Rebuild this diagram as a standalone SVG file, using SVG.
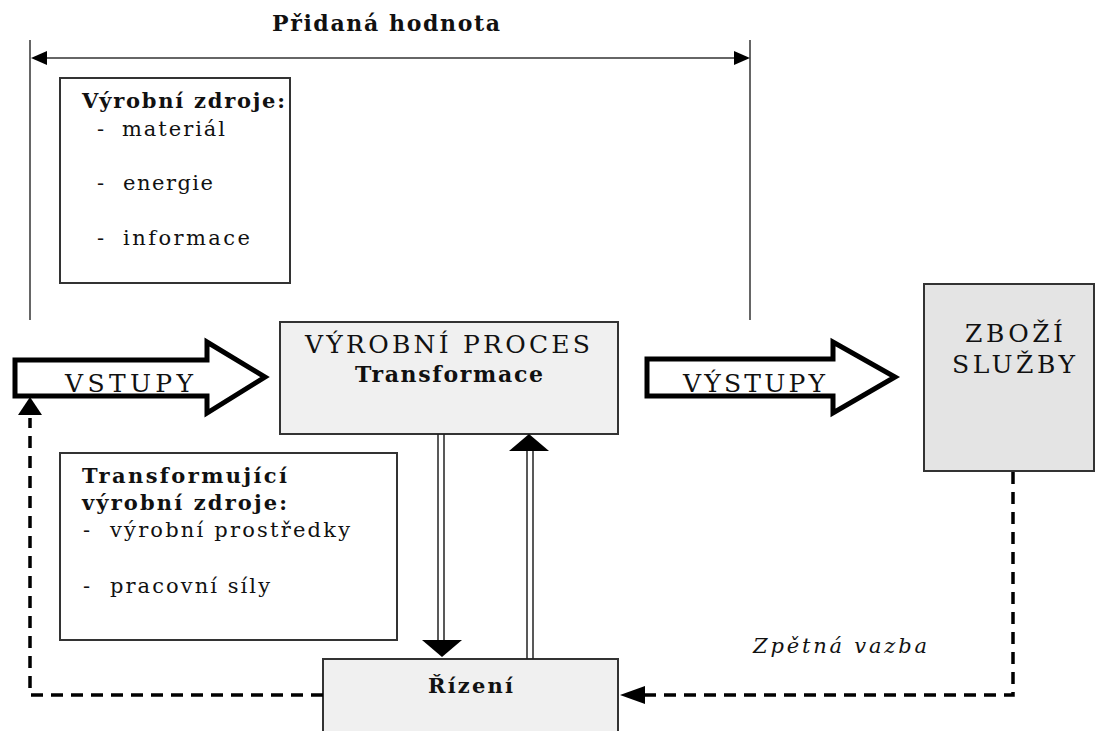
<svg xmlns="http://www.w3.org/2000/svg" width="1096" height="731" viewBox="0 0 1096 731" font-family="DejaVu Serif, Liberation Serif, serif">
  <style>
    .b { font-weight: bold; }
    .box { stroke: #333; stroke-width: 2; }
    .white { fill: #fff; }
    .light { fill: #f0f0f0; }
    .grey { fill: #e4e4e4; }
    .measure { stroke: #666; stroke-width: 2; fill: none; }
    .block { fill: #fff; stroke: #000; stroke-width: 5; stroke-linejoin: miter; }
    .dash { stroke: #000; stroke-width: 3.5; fill: none; stroke-dasharray: 12 8; }
    .thin { stroke: #222; stroke-width: 1.5; }
    .head { fill: #000; }
  </style>
  <rect width="1096" height="731" fill="#fff"/>

  <!-- value-added span across the top -->
  <g id="value-added" fill="#111">
    <line class="measure" x1="30" y1="40" x2="30" y2="320"/>
    <line class="measure" x1="750" y1="40" x2="750" y2="320"/>
    <line class="measure" x1="40" y1="58" x2="740" y2="58"/>
    <polygon class="head" points="31,58 47,51 47,65"/>
    <polygon class="head" points="750,58 734,51 734,65"/>
    <text class="b" x="272" y="31" font-size="22" textLength="228" lengthAdjust="spacing">Přidaná hodnota</text>
  </g>

  <!-- production resources -->
  <g id="resources" fill="#111">
    <rect class="box white" x="60" y="78" width="230" height="205"/>
    <text class="b" x="82" y="108" font-size="21" textLength="203" lengthAdjust="spacing">Výrobní zdroje:</text>
    <text x="97" y="136" font-size="21">-</text>
    <text x="122" y="136" font-size="21" textLength="103" lengthAdjust="spacing">materiál</text>
    <text x="97" y="190" font-size="21">-</text>
    <text x="123" y="190" font-size="21" textLength="90" lengthAdjust="spacing">energie</text>
    <text x="97" y="245" font-size="21">-</text>
    <text x="123" y="245" font-size="21" textLength="127" lengthAdjust="spacing">informace</text>
  </g>

  <!-- transforming resources -->
  <g id="transforming" fill="#111">
    <rect class="box white" x="60" y="453" width="337" height="187"/>
    <text class="b" x="82" y="483" font-size="21" textLength="205" lengthAdjust="spacing">Transformující</text>
    <text class="b" x="82" y="510" font-size="21" textLength="205" lengthAdjust="spacing">výrobní zdroje:</text>
    <text x="83" y="537" font-size="21">-</text>
    <text x="110" y="537" font-size="21" textLength="240" lengthAdjust="spacing">výrobní prostředky</text>
    <text x="83" y="593" font-size="21">-</text>
    <text x="110" y="593" font-size="21" textLength="160" lengthAdjust="spacing">pracovní síly</text>
  </g>

  <!-- inputs block arrow -->
  <g id="inputs" fill="#111">
    <polygon class="block" points="15,360 207,360 207,342 265,377 207,413 207,396 15,396"/>
    <text x="65" y="392" font-size="25" textLength="128" lengthAdjust="spacing">VSTUPY</text>
  </g>

  <!-- production process -->
  <g id="process" fill="#111">
    <rect class="box light" x="280" y="322" width="338" height="112"/>
    <text x="305" y="353" font-size="25" textLength="285" lengthAdjust="spacing">VÝROBNÍ PROCES</text>
    <text class="b" x="355" y="382" font-size="22" textLength="188" lengthAdjust="spacing">Transformace</text>
  </g>

  <!-- outputs block arrow -->
  <g id="outputs" fill="#111">
    <polygon class="block" points="647,359 833,359 833,342 895,377 833,413 833,396 647,396"/>
    <text x="683" y="392" font-size="25" textLength="142" lengthAdjust="spacing">VÝSTUPY</text>
  </g>

  <!-- goods and services -->
  <g id="goods" fill="#111">
    <rect class="box grey" x="924" y="284" width="170" height="187"/>
    <text x="965" y="342" font-size="25" textLength="98" lengthAdjust="spacing">ZBOŽÍ</text>
    <text x="952" y="373" font-size="25" textLength="123" lengthAdjust="spacing">SLUŽBY</text>
  </g>

  <!-- management -->
  <g id="control" fill="#111">
    <rect class="box light" x="323" y="659" width="295" height="80"/>
    <text class="b" x="428" y="693" font-size="21" textLength="85" lengthAdjust="spacing">Řízení</text>
  </g>

  <!-- connectors -->
  <g id="connectors" fill="#111">
    <!-- process down to management -->
    <line class="thin" x1="438" y1="434" x2="438" y2="641"/>
    <line class="thin" x1="444" y1="434" x2="444" y2="641"/>
    <polygon class="head" points="422,640 462,640 442,657"/>
    <!-- management up to process -->
    <line class="thin" x1="527" y1="659" x2="527" y2="450"/>
    <line class="thin" x1="533" y1="659" x2="533" y2="450"/>
    <polygon class="head" points="509,451 549,451 529,434"/>
    <!-- feedback from goods back to management -->
    <path class="dash" d="M1013,472 V695 H645"/>
    <polygon class="head" points="620,695 645,686 645,704"/>
    <text x="753" y="653" font-size="21" font-style="italic" textLength="174" lengthAdjust="spacing">Zpětná vazba</text>
    <!-- management back to inputs -->
    <path class="dash" d="M323,695 H30 V418"/>
    <polygon class="head" points="30,397 18,415 42,415"/>
  </g>
</svg>
